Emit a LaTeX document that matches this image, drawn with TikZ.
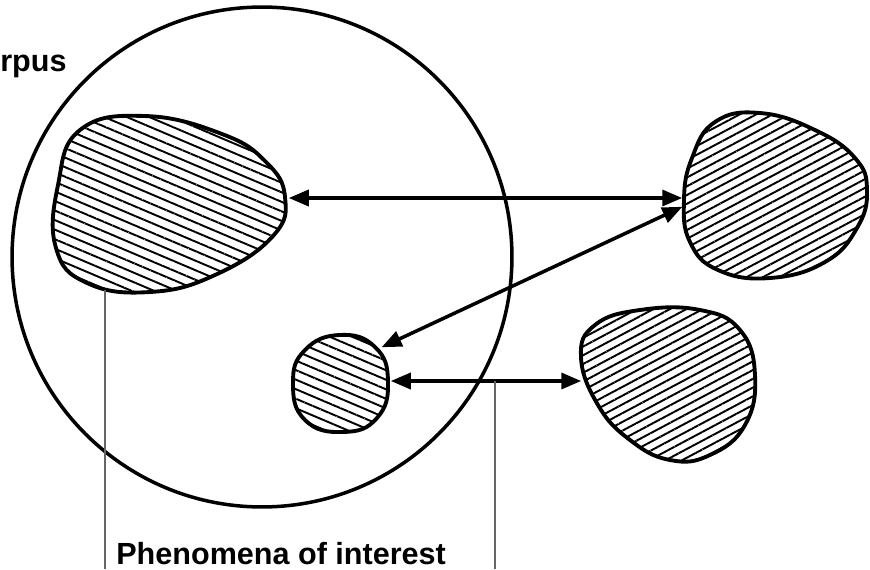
\documentclass[tikz,border=0pt]{standalone}
\usepackage{fontspec}
\setmainfont{Liberation Sans}
\usetikzlibrary{arrows.meta,patterns.meta}

\begin{document}
\begin{tikzpicture}[
        x=0.02cm, y=-0.02cm,
        every node/.style={font=\fontsize{17.4}{20}\selectfont\bfseries, inner sep=0pt},
        corpus/.style={line width=2pt},
        blob/.style={
            line width=2.2pt,
            pattern={Lines[angle=-23, distance=5pt, line width=1.1pt]}
        },
        blobup/.style={
            line width=2.2pt,
            pattern={Lines[angle=28, distance=4.4pt, line width=1.1pt]}
        },
        >={Triangle[length=0.4cm, width=0.32cm]},
        link/.style={<->, line width=2pt, shorten <=1pt, shorten >=1pt},
        leader/.style={draw=gray!80!black, line width=0.6pt}
    ]
        \useasboundingbox (0,0) rectangle (870,569);

        % Corpus
        \draw[corpus] (262,257) circle[radius=5cm];
        \node[anchor=base west] (corpus) at (0,71) {rpus};

        % Phenomena inside the corpus
        \draw[blob] plot[smooth cycle, tension=0.75] coordinates {
            (80,130) (145,116) (222,134) (266,162) (285,197) (273,236)
            (215,275) (150,292) (87,283) (56,248) (58,185)};
        \draw[blob] plot[smooth cycle, tension=0.8] coordinates {
            (293,383) (305,350) (340,335) (375,347) (388,381) (377,418)
            (343,432) (305,420)};

        % Phenomena outside the corpus
        \draw[blobup] plot[smooth cycle, tension=0.75] coordinates {
            (684,200) (692,158) (715,122) (760,113) (815,130) (855,158)
            (867,190) (857,228) (825,262) (770,278) (718,270) (690,242)};
        \draw[blobup] plot[smooth cycle, tension=0.75] coordinates {
            (581,357) (595,325) (640,310) (700,310) (740,330) (755,375)
            (745,425) (710,455) (670,460) (630,440) (598,405)};

        % Anchor points on the blobs
        \coordinate (bigE) at (287,198);
        \coordinate (bigS) at (105,290);
        \coordinate (smallNE) at (380,348);
        \coordinate (smallE) at (389,381);
        \coordinate (upW) at (684,198);
        \coordinate (upSW) at (684,206);
        \coordinate (lowW) at (583,381);
        \coordinate (tap) at (495,381);
        \coordinate (leadL) at (105,569);
        \coordinate (leadR) at (495,569);

        % Correspondences
        \draw[link] (bigE) -- (upW);
        \draw[link] (upSW) -- (smallNE);
        \draw[link] (smallE) -- (lowW);

        % Label with leaders
        \draw[leader] (bigS) -- (leadL);
        \draw[leader] (tap) -- (leadR);
        \node[anchor=base west] (phen) at (116,564) {Phenomena of interest};

    \end{tikzpicture}
\end{document}
